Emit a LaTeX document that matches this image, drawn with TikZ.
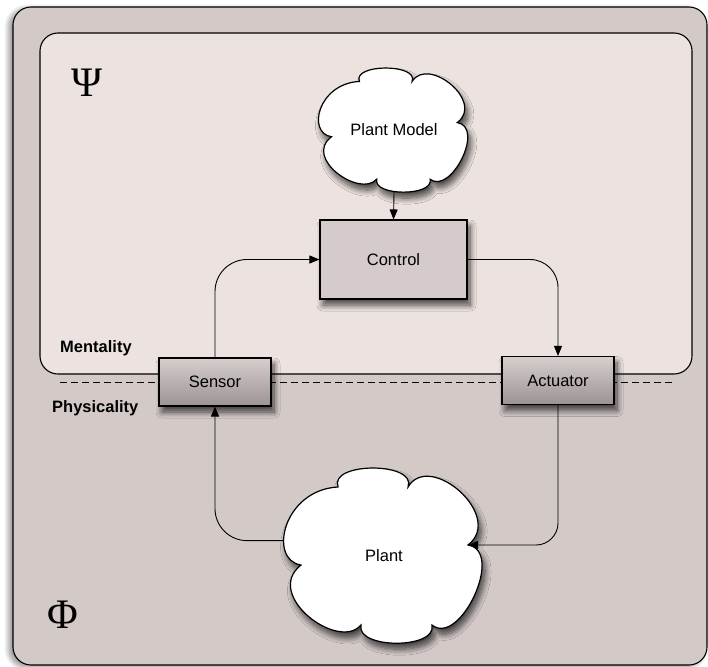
\documentclass[tikz,border=0pt]{standalone}
\usepackage{fontspec}
\setmainfont{Liberation Sans}
\newfontfamily\greekfont{Liberation Serif}
\usetikzlibrary{arrows.meta,shadows.blur}

\definecolor{outerfill}{HTML}{D3CAC8}
\definecolor{innerfill}{HTML}{ECE2DF}
\definecolor{boxfill}{HTML}{D4CBCA}
\definecolor{gradtop}{HTML}{D6CFCE}
\definecolor{gradbot}{HTML}{9C9393}

\tikzset{
  softshadow/.style={blur shadow={shadow xshift=3pt,shadow yshift=-6pt,shadow blur steps=10,shadow opacity=70,shadow blur radius=6pt}},
  region/.style={draw=black,line width=1.1pt,rounded corners=18pt},
  cloudline/.style={draw=black,line width=1.2pt,fill=white,softshadow},
  cloudtext/.style={inner sep=0pt,font=\fontsize{16.5}{20}\selectfont},
  ctrlbox/.style={draw=black,line width=1.1pt,fill=boxfill,softshadow,minimum width=147pt,minimum height=79pt,font=\fontsize{16.5}{20}\selectfont},
  iobox/.style={draw=black,line width=1.1pt,top color=gradtop,bottom color=gradbot,softshadow,minimum width=112pt,minimum height=48pt,font=\fontsize{16.5}{20}\selectfont},
  conn/.style={draw=black,line width=0.9pt,-{Triangle[length=10pt,width=8pt]}},
  caption/.style={font=\bfseries\fontsize{16.5}{20}\selectfont,anchor=west,inner sep=0pt},
  bigsym/.style={font=\greekfont\fontsize{42}{46}\selectfont,inner sep=0pt}
}

% a six-puff cloud: name, centre, half width, half height, text
\newcommand\puffcloud[5]{%
  \begin{scope}[shift={#2},x=#3pt,y=-#4pt]
    \path[cloudline] (-0.455,-0.783)
      .. controls (-0.55,-1.072) and (0.33,-1.072) .. (0.238,-0.783)
      .. controls (0.45,-1.2) and (1.2,-0.45) .. (0.832,-0.12)
      .. controls (1.2,-0.05) and (0.75,1.05) .. (0.475,0.794)
      .. controls (0.53,1.072) and (-0.28,1.072) .. (-0.228,0.794)
      .. controls (-0.45,1.1) and (-1.2,0.45) .. (-0.822,0.109)
      .. controls (-1.15,0.05) and (-1.0,-0.75) .. (-0.455,-0.783) -- cycle;
    \coordinate (#1-R) at (0.832,-0.12);
    \coordinate (#1-W) at (-0.99,-0.17);
  \end{scope}
  \node[cloudtext,minimum width=2*#3pt,minimum height=2*#4pt] (#1) at #2 {#5};
}

\begin{document}
\begin{tikzpicture}[x=1pt,y=-1pt]
  \useasboundingbox (0,0) rectangle (708,666);

  % outer region: physicality
  \path[region,fill=outerfill,blur shadow={shadow xshift=-4pt,shadow yshift=-2pt,shadow blur steps=10,shadow opacity=45,shadow blur radius=5pt}] (13,7) rectangle (707,665);

  % inner region: mentality
  \path[region,fill=innerfill] (40,33) rectangle (692,374);

  \node[bigsym] (psi) at (87,83) {Ψ};
  \node[bigsym] (phi) at (63,615) {Φ};

  \node[caption] (ment) at (60,348) {Mentality};
  \node[caption] (phys) at (52,408) {Physicality};

  % boundary between the two regions
  \coordinate (dashL) at (60,382);
  \coordinate (dashR) at (672,382);
  \draw[line width=0.9pt,dash pattern=on 7pt off 4pt] (dashL) -- (dashR);

  \puffcloud{model}{(394,130)}{76}{62}{Plant Model}
  \node[ctrlbox] (control) at (393.5,259.5) {Control};
  \node[iobox] (sensor) at (215,382) {Sensor};
  \node[iobox] (actuator) at (558,380.5) {Actuator};
  \puffcloud{plant}{(384,555.5)}{101}{87.5}{Plant}

  \draw[conn] (model.south) -- (control.north);
  \draw[conn,rounded corners=32pt] (sensor.north) |- (control.west);
  \draw[conn,rounded corners=28pt] (control.east) -| (actuator.north);
  \draw[conn,rounded corners=22pt] (actuator.south) |- (plant-R);
  \draw[conn,rounded corners=32pt] (plant-W) -| (sensor.south);
\end{tikzpicture}
\end{document}
